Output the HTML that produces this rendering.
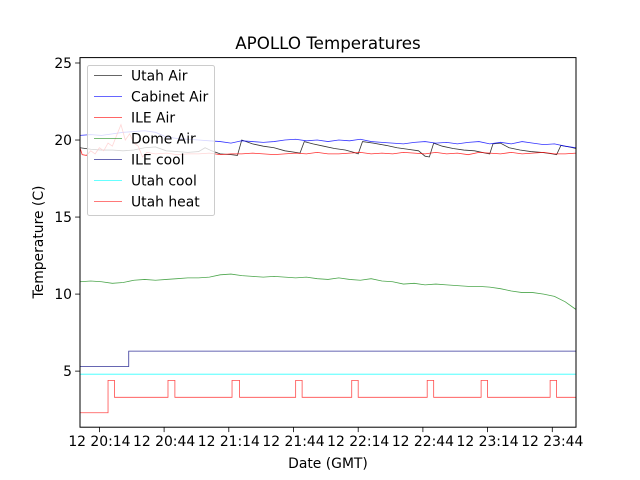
<!DOCTYPE html>
<html><head><meta charset="utf-8"><style>
html,body{margin:0;padding:0;background:#fff;}
svg{display:block;font-family:"DejaVu Sans","Liberation Sans",sans-serif;}
</style></head><body>
<svg id="chart" width="640" height="480" viewBox="0 0 640 480">
<rect width="640" height="480" fill="#fff"/>
<text x="328" y="49" font-size="16.7" text-anchor="middle">APOLLO Temperatures</text>
<g id="marks"></g>
<g id="axes"></g>
<g id="legend"></g>
</svg>
<script>
// ---- data (time in minutes after 20:00, day 12) ----
const xTickMinutes = [14,44,74,104,134,164,194,224];
const xTickLabels = ["12 20:14","12 20:44","12 21:14","12 21:44","12 22:14","12 22:44","12 23:14","12 23:44"];
const yTickValues = [5,10,15,20,25];
const seriesNames = ["Utah Air","Cabinet Air","ILE Air","Dome Air","ILE cool","Utah cool","Utah heat"];

const utahAirTimes = [5,10,15,20,25,30,35,40,45,50,55,60,63,66,70,75,78,80,85,90,95,100,105,107,109,113,118,123,128,132,134,136,141,147,152,157,162,165,167,169,173,178,183,188,193,195,196.5,200,204,209,214,219,224,226,228,232,235];
const utahAirValues = [19.5,19.4,19.35,19.35,19.3,19.35,19.5,19.55,19.3,19.25,19.2,19.25,19.5,19.3,19.1,19.05,19.0,20.0,19.75,19.6,19.5,19.3,19.2,19.15,19.9,19.75,19.6,19.45,19.35,19.2,19.1,19.9,19.8,19.65,19.5,19.4,19.3,18.95,18.9,19.8,19.6,19.45,19.35,19.3,19.15,19.1,19.75,19.8,19.5,19.35,19.25,19.2,19.1,19.05,19.65,19.55,19.45];

const gridTimes = [5,10,15,20,25,30,35,40,45,50,55,60,65,70,75,80,85,90,95,100,105,110,115,120,125,130,135,140,145,150,155,160,165,170,175,180,185,190,195,200,205,210,215,220,225,230,235];
const cabinetAirValues = [20.3,20.35,20.3,20.4,20.5,20.55,20.6,20.5,20.2,20.1,20.05,20.0,19.95,19.9,19.8,19.95,19.9,19.85,19.9,20.0,20.05,19.95,20.0,19.9,20.0,19.95,20.05,19.9,19.85,19.8,19.75,19.85,19.9,19.8,19.85,19.75,19.85,19.9,19.75,19.85,19.75,19.9,19.8,19.7,19.75,19.6,19.5];
const domeAirValues = [10.8,10.85,10.8,10.7,10.75,10.9,10.95,10.9,10.95,11.0,11.05,11.05,11.1,11.25,11.3,11.2,11.15,11.1,11.15,11.1,11.05,11.1,11.0,10.95,11.05,10.95,10.9,11.0,10.85,10.8,10.65,10.7,10.6,10.65,10.6,10.55,10.5,10.5,10.45,10.35,10.2,10.1,10.1,10.0,9.85,9.5,9.0];

const ileAirTimes = [5,6,8,10,12,14,16,18,20,22,24,26,28,30,32,34,36,40,45,50,55,60,65,70,75,80,85,90,95,100,105,110,115,120,125,130,135,140,145,150,155,160,165,170,175,180,185,190,195,200,205,210,215,220,225,230,235];
const ileAirValues = [19.5,19.05,19.0,19.3,19.1,19.5,19.3,19.8,19.6,20.3,21.0,20.0,20.4,19.8,19.6,18.9,19.2,19.1,19.15,19.05,19.1,19.1,19.15,19.05,19.1,19.1,19.15,19.1,19.05,19.1,19.15,19.1,19.2,19.1,19.1,19.15,19.2,19.1,19.15,19.1,19.2,19.15,19.1,19.2,19.1,19.15,19.05,19.2,19.15,19.1,19.2,19.1,19.15,19.2,19.1,19.1,19.15];

const ileCoolTimes = [5,27.6,235];
const ileCoolValues = [5.3,6.3,6.3];
const utahCoolTimes = [5,235];
const utahCoolValues = [4.8,4.8];
const utahHeatTimes = [5,18,21,45.8,49,75.5,79,105,108,131,134,166,169,191,194,223,226,235];
const utahHeatValues = [2.3,4.4,3.3,4.4,3.3,4.4,3.3,4.4,3.3,4.4,3.3,4.4,3.3,4.4,3.3,4.4,3.3,3.3];

// ---- axes ----
const L=80,R=576,T=57.6,B=427.2, tMin=5, tMax=235, vMin=1.36, vMax=25.35;
function xs(t){return L+(t-tMin)*(R-L)/(tMax-tMin);}
function ys(v){return B-(v-vMin)*(B-T)/(vMax-vMin);}
const NS="http://www.w3.org/2000/svg";
function mk(tag,attrs,parent){const e=document.createElementNS(NS,tag);for(const k in attrs)e.setAttribute(k,attrs[k]);parent.appendChild(e);return e;}
const marks=document.getElementById('marks'), axes=document.getElementById('axes'), legend=document.getElementById('legend');

function linePath(times,vals){return times.map((t,i)=>(i?'L':'M')+xs(t).toFixed(2)+' '+ys(vals[i]).toFixed(2)).join(' ');}
function stepPath(times,vals){let d='M'+xs(times[0])+' '+ys(vals[0]);for(let i=1;i<times.length;i++){d+=' L'+xs(times[i])+' '+ys(vals[i-1])+' L'+xs(times[i])+' '+ys(vals[i]);}return d;}

const styles=[["#000",0.8],["#0000ff",0.8],["#ff0000",0.8],["#008000",0.7],["#000080",0.8],["#00ffff",0.8],["#ff0000",0.7]];
const paths=[linePath(utahAirTimes,utahAirValues),linePath(gridTimes,cabinetAirValues),linePath(ileAirTimes,ileAirValues),linePath(gridTimes,domeAirValues),stepPath(ileCoolTimes,ileCoolValues),linePath(utahCoolTimes,utahCoolValues),stepPath(utahHeatTimes,utahHeatValues)];
const lineNames=['utah-air-line','cabinet-air-line','ile-air-line','dome-air-line','ile-cool-line','utah-cool-line','utah-heat-line'];
paths.forEach((d,i)=>{
  const p=mk('path',{d:d,fill:'none',stroke:styles[i][0],'stroke-opacity':styles[i][1],'stroke-width':0.8},marks);
  
  
});

// frame
const frame=mk('rect',{x:L,y:T,width:R-L,height:B-T,fill:'none',stroke:'#000','stroke-width':1},axes);


xTickMinutes.forEach((t,i)=>{
  const x=xs(t);
  mk('line',{x1:x,x2:x,y1:B,y2:B+4.9,stroke:'#000','stroke-width':0.8},axes);
  const lb=mk('text',{x:x,y:B+19,'font-size':13.9,'text-anchor':'middle'},axes);
  lb.textContent=xTickLabels[i];
  
  
});
yTickValues.forEach(v=>{
  const y=ys(v);
  mk('line',{x1:L-4.9,x2:L,y1:y,y2:y,stroke:'#000','stroke-width':0.8},axes);
  const lb=mk('text',{x:L-8,y:y+5,'font-size':13.9,'text-anchor':'end'},axes);
  lb.textContent=String(v);
  
  
});
const xt=mk('text',{x:328,y:468,'font-size':13.9,'text-anchor':'middle'},axes);
xt.textContent='Date (GMT)';


const yt=mk('text',{x:0,y:0,'font-size':13.9,'text-anchor':'middle',transform:'translate(43,242) rotate(-90)'},axes);
yt.textContent='Temperature (C)';



// legend
const lbox=mk('rect',{x:87.5,y:65.5,width:127,height:150,rx:2,fill:'#fff','fill-opacity':0.8,stroke:'#ccc','stroke-width':1},legend);


seriesNames.forEach((n,i)=>{
  const y=75.5+i*21;
  const g=mk('g',{},legend);
  
  
  mk('line',{x1:94,x2:122,y1:y,y2:y,stroke:styles[i][0],'stroke-opacity':styles[i][1],'stroke-width':0.8},g);
  const t=mk('text',{x:131,y:y+5,'font-size':13.9},g);
  t.textContent=n;
});
</script>
</body></html>
